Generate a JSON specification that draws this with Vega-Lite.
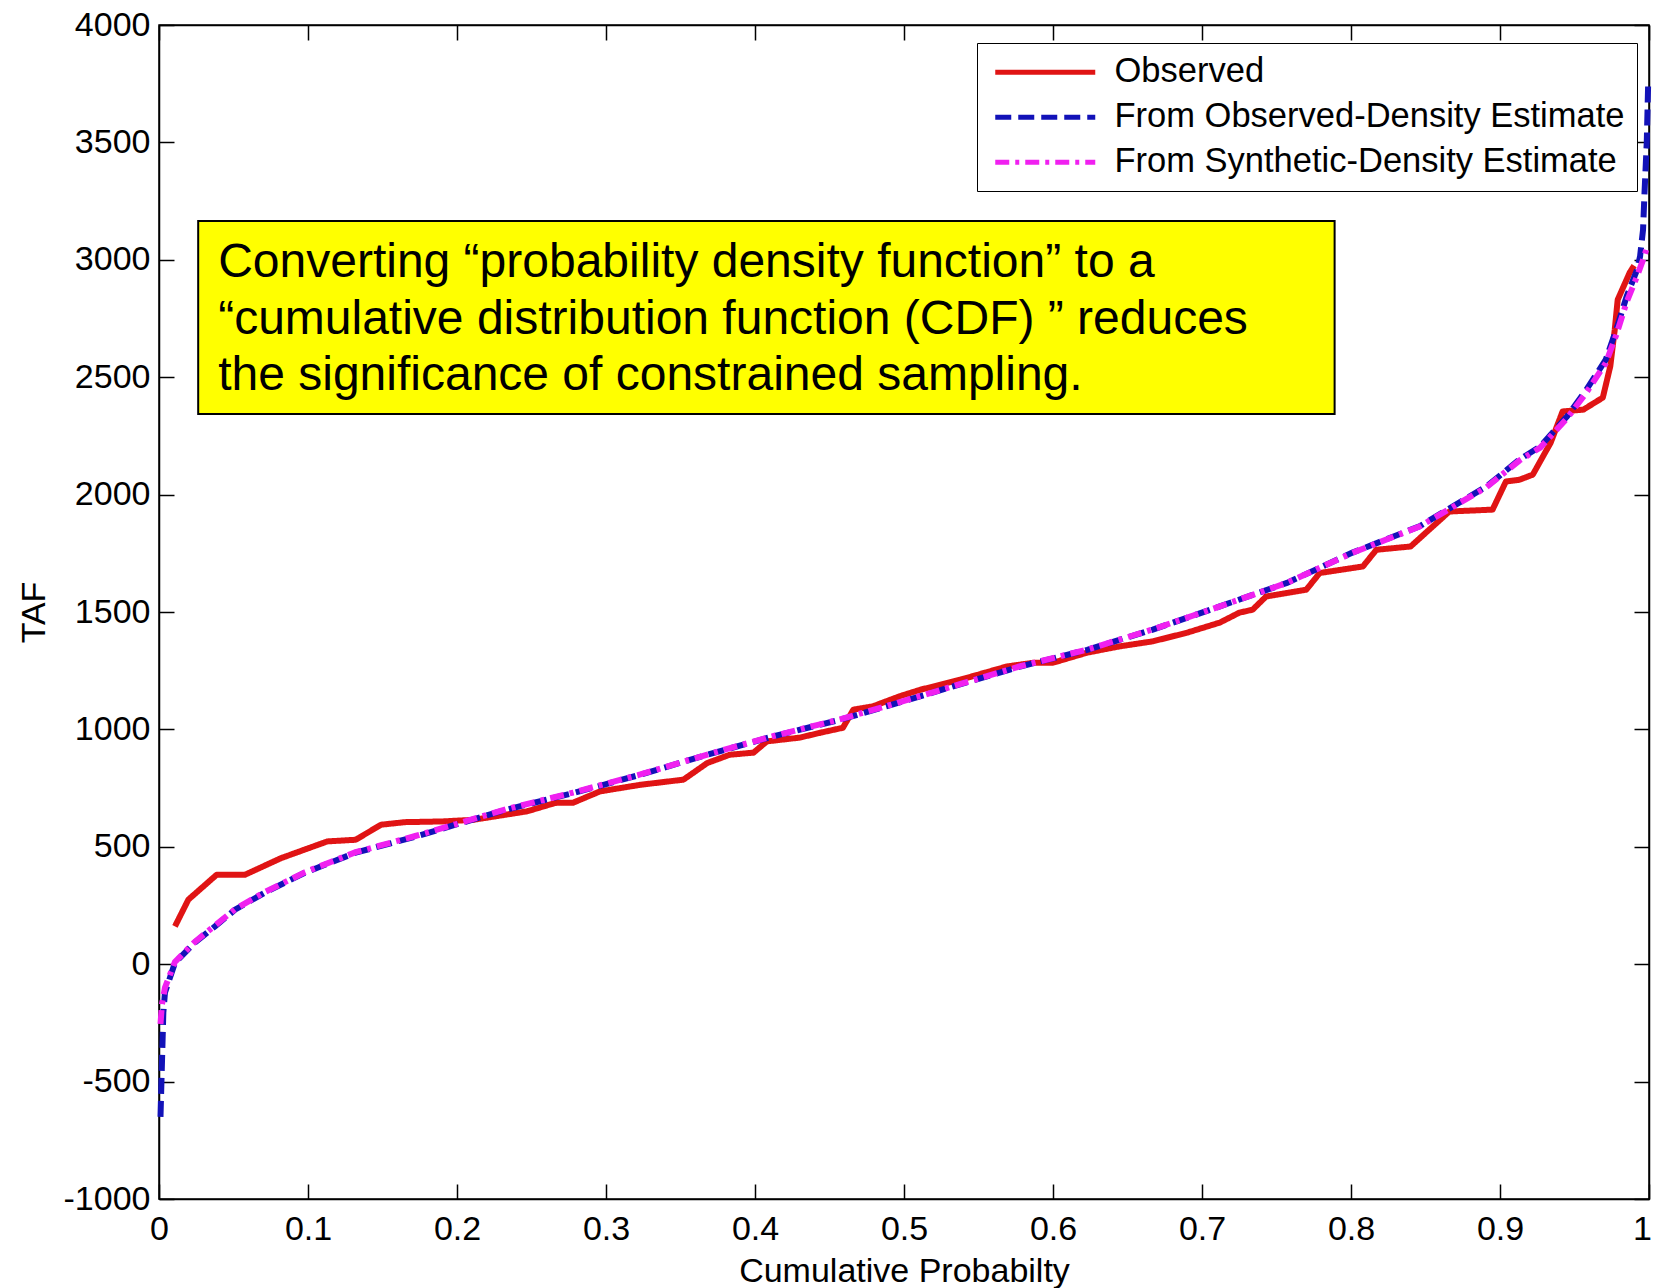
{
  "$schema": "https://vega.github.io/schema/vega-lite/v6.json",
  "width": 1490,
  "height": 1174,
  "autosize": {"type": "none"},
  "padding": {"left": 159, "top": 25, "right": 4, "bottom": 89},
  "background": "white",
  "config": {
    "font": "Liberation Sans",
    "view": {"stroke": "black", "strokeWidth": 1.5},
    "axis": {"grid": false, "domainColor": "black", "domainWidth": 1.5, "tickColor": "black", "tickWidth": 1.5, "labelColor": "black", "titleColor": "black", "labelFont": "Liberation Sans", "titleFont": "Liberation Sans", "labelFontSize": 34, "titleFontSize": 34, "titleFontWeight": "normal"}
  },
  "datasets": {
    "curves": [
      {"series": "Observed", "p": 0.0107, "taf": 161},
      {"series": "Observed", "p": 0.0197, "taf": 275},
      {"series": "Observed", "p": 0.0387, "taf": 381},
      {"series": "Observed", "p": 0.0577, "taf": 381},
      {"series": "Observed", "p": 0.082, "taf": 452},
      {"series": "Observed", "p": 0.113, "taf": 523},
      {"series": "Observed", "p": 0.132, "taf": 530},
      {"series": "Observed", "p": 0.149, "taf": 594},
      {"series": "Observed", "p": 0.165, "taf": 605},
      {"series": "Observed", "p": 0.19, "taf": 608},
      {"series": "Observed", "p": 0.211, "taf": 615},
      {"series": "Observed", "p": 0.247, "taf": 651},
      {"series": "Observed", "p": 0.266, "taf": 687},
      {"series": "Observed", "p": 0.278, "taf": 688},
      {"series": "Observed", "p": 0.296, "taf": 736},
      {"series": "Observed", "p": 0.323, "taf": 764},
      {"series": "Observed", "p": 0.352, "taf": 786},
      {"series": "Observed", "p": 0.368, "taf": 857},
      {"series": "Observed", "p": 0.383, "taf": 892},
      {"series": "Observed", "p": 0.399, "taf": 901},
      {"series": "Observed", "p": 0.408, "taf": 949},
      {"series": "Observed", "p": 0.43, "taf": 965},
      {"series": "Observed", "p": 0.444, "taf": 986},
      {"series": "Observed", "p": 0.459, "taf": 1007},
      {"series": "Observed", "p": 0.466, "taf": 1084},
      {"series": "Observed", "p": 0.479, "taf": 1098},
      {"series": "Observed", "p": 0.497, "taf": 1141},
      {"series": "Observed", "p": 0.511, "taf": 1169},
      {"series": "Observed", "p": 0.538, "taf": 1212},
      {"series": "Observed", "p": 0.569, "taf": 1268},
      {"series": "Observed", "p": 0.587, "taf": 1284},
      {"series": "Observed", "p": 0.6, "taf": 1284},
      {"series": "Observed", "p": 0.623, "taf": 1327},
      {"series": "Observed", "p": 0.645, "taf": 1354},
      {"series": "Observed", "p": 0.667, "taf": 1375},
      {"series": "Observed", "p": 0.69, "taf": 1412},
      {"series": "Observed", "p": 0.712, "taf": 1455},
      {"series": "Observed", "p": 0.725, "taf": 1497},
      {"series": "Observed", "p": 0.734, "taf": 1510},
      {"series": "Observed", "p": 0.743, "taf": 1566},
      {"series": "Observed", "p": 0.77, "taf": 1595},
      {"series": "Observed", "p": 0.779, "taf": 1666},
      {"series": "Observed", "p": 0.808, "taf": 1694},
      {"series": "Observed", "p": 0.817, "taf": 1765},
      {"series": "Observed", "p": 0.84, "taf": 1779},
      {"series": "Observed", "p": 0.855, "taf": 1865},
      {"series": "Observed", "p": 0.866, "taf": 1928},
      {"series": "Observed", "p": 0.895, "taf": 1936},
      {"series": "Observed", "p": 0.904, "taf": 2056},
      {"series": "Observed", "p": 0.913, "taf": 2063},
      {"series": "Observed", "p": 0.922, "taf": 2085},
      {"series": "Observed", "p": 0.934, "taf": 2221},
      {"series": "Observed", "p": 0.942, "taf": 2354},
      {"series": "Observed", "p": 0.956, "taf": 2362},
      {"series": "Observed", "p": 0.969, "taf": 2413},
      {"series": "Observed", "p": 0.974, "taf": 2546},
      {"series": "Observed", "p": 0.977, "taf": 2702},
      {"series": "Observed", "p": 0.979, "taf": 2830},
      {"series": "Observed", "p": 0.987, "taf": 2945},
      {"series": "Observed", "p": 0.99, "taf": 2975},
      {"series": "From Observed-Density Estimate", "p": 0.001, "taf": -650},
      {"series": "From Observed-Density Estimate", "p": 0.0018, "taf": -462},
      {"series": "From Observed-Density Estimate", "p": 0.0029, "taf": -207},
      {"series": "From Observed-Density Estimate", "p": 0.004, "taf": -121},
      {"series": "From Observed-Density Estimate", "p": 0.0107, "taf": 6},
      {"series": "From Observed-Density Estimate", "p": 0.024, "taf": 92},
      {"series": "From Observed-Density Estimate", "p": 0.0376, "taf": 161},
      {"series": "From Observed-Density Estimate", "p": 0.051, "taf": 232},
      {"series": "From Observed-Density Estimate", "p": 0.071, "taf": 305},
      {"series": "From Observed-Density Estimate", "p": 0.098, "taf": 390},
      {"series": "From Observed-Density Estimate", "p": 0.132, "taf": 475},
      {"series": "From Observed-Density Estimate", "p": 0.172, "taf": 543},
      {"series": "From Observed-Density Estimate", "p": 0.199, "taf": 594},
      {"series": "From Observed-Density Estimate", "p": 0.233, "taf": 658},
      {"series": "From Observed-Density Estimate", "p": 0.278, "taf": 729},
      {"series": "From Observed-Density Estimate", "p": 0.323, "taf": 807},
      {"series": "From Observed-Density Estimate", "p": 0.368, "taf": 892},
      {"series": "From Observed-Density Estimate", "p": 0.412, "taf": 970},
      {"series": "From Observed-Density Estimate", "p": 0.457, "taf": 1041},
      {"series": "From Observed-Density Estimate", "p": 0.488, "taf": 1098},
      {"series": "From Observed-Density Estimate", "p": 0.533, "taf": 1183},
      {"series": "From Observed-Density Estimate", "p": 0.578, "taf": 1268},
      {"series": "From Observed-Density Estimate", "p": 0.623, "taf": 1339},
      {"series": "From Observed-Density Estimate", "p": 0.667, "taf": 1425},
      {"series": "From Observed-Density Estimate", "p": 0.712, "taf": 1524},
      {"series": "From Observed-Density Estimate", "p": 0.757, "taf": 1624},
      {"series": "From Observed-Density Estimate", "p": 0.801, "taf": 1753},
      {"series": "From Observed-Density Estimate", "p": 0.846, "taf": 1865},
      {"series": "From Observed-Density Estimate", "p": 0.891, "taf": 2035},
      {"series": "From Observed-Density Estimate", "p": 0.913, "taf": 2149},
      {"series": "From Observed-Density Estimate", "p": 0.927, "taf": 2205},
      {"series": "From Observed-Density Estimate", "p": 0.945, "taf": 2333},
      {"series": "From Observed-Density Estimate", "p": 0.958, "taf": 2447},
      {"series": "From Observed-Density Estimate", "p": 0.971, "taf": 2575},
      {"series": "From Observed-Density Estimate", "p": 0.978, "taf": 2702},
      {"series": "From Observed-Density Estimate", "p": 0.985, "taf": 2844},
      {"series": "From Observed-Density Estimate", "p": 0.992, "taf": 2958},
      {"series": "From Observed-Density Estimate", "p": 0.994, "taf": 3014},
      {"series": "From Observed-Density Estimate", "p": 0.996, "taf": 3128},
      {"series": "From Observed-Density Estimate", "p": 0.997, "taf": 3286},
      {"series": "From Observed-Density Estimate", "p": 0.9985, "taf": 3500},
      {"series": "From Observed-Density Estimate", "p": 0.9995, "taf": 3767},
      {"series": "From Synthetic-Density Estimate", "p": 0.001, "taf": -255},
      {"series": "From Synthetic-Density Estimate", "p": 0.002, "taf": -170},
      {"series": "From Synthetic-Density Estimate", "p": 0.004, "taf": -100},
      {"series": "From Synthetic-Density Estimate", "p": 0.0107, "taf": 10},
      {"series": "From Synthetic-Density Estimate", "p": 0.024, "taf": 95},
      {"series": "From Synthetic-Density Estimate", "p": 0.0376, "taf": 165},
      {"series": "From Synthetic-Density Estimate", "p": 0.051, "taf": 234},
      {"series": "From Synthetic-Density Estimate", "p": 0.071, "taf": 307},
      {"series": "From Synthetic-Density Estimate", "p": 0.098, "taf": 392},
      {"series": "From Synthetic-Density Estimate", "p": 0.132, "taf": 477},
      {"series": "From Synthetic-Density Estimate", "p": 0.172, "taf": 546},
      {"series": "From Synthetic-Density Estimate", "p": 0.199, "taf": 596},
      {"series": "From Synthetic-Density Estimate", "p": 0.233, "taf": 660},
      {"series": "From Synthetic-Density Estimate", "p": 0.278, "taf": 731},
      {"series": "From Synthetic-Density Estimate", "p": 0.323, "taf": 808},
      {"series": "From Synthetic-Density Estimate", "p": 0.368, "taf": 893},
      {"series": "From Synthetic-Density Estimate", "p": 0.412, "taf": 971},
      {"series": "From Synthetic-Density Estimate", "p": 0.457, "taf": 1043},
      {"series": "From Synthetic-Density Estimate", "p": 0.488, "taf": 1099},
      {"series": "From Synthetic-Density Estimate", "p": 0.533, "taf": 1184},
      {"series": "From Synthetic-Density Estimate", "p": 0.578, "taf": 1269},
      {"series": "From Synthetic-Density Estimate", "p": 0.623, "taf": 1340},
      {"series": "From Synthetic-Density Estimate", "p": 0.667, "taf": 1426},
      {"series": "From Synthetic-Density Estimate", "p": 0.712, "taf": 1524},
      {"series": "From Synthetic-Density Estimate", "p": 0.757, "taf": 1624},
      {"series": "From Synthetic-Density Estimate", "p": 0.801, "taf": 1752},
      {"series": "From Synthetic-Density Estimate", "p": 0.846, "taf": 1864},
      {"series": "From Synthetic-Density Estimate", "p": 0.891, "taf": 2032},
      {"series": "From Synthetic-Density Estimate", "p": 0.913, "taf": 2145},
      {"series": "From Synthetic-Density Estimate", "p": 0.927, "taf": 2200},
      {"series": "From Synthetic-Density Estimate", "p": 0.945, "taf": 2325},
      {"series": "From Synthetic-Density Estimate", "p": 0.958, "taf": 2435},
      {"series": "From Synthetic-Density Estimate", "p": 0.971, "taf": 2560},
      {"series": "From Synthetic-Density Estimate", "p": 0.978, "taf": 2680},
      {"series": "From Synthetic-Density Estimate", "p": 0.985, "taf": 2820},
      {"series": "From Synthetic-Density Estimate", "p": 0.992, "taf": 2930},
      {"series": "From Synthetic-Density Estimate", "p": 0.996, "taf": 3000},
      {"series": "From Synthetic-Density Estimate", "p": 0.999, "taf": 3060}
    ]
  },
  "resolve": {"axis": {"x": "independent", "y": "independent"}},
  "layer": [
    {
      "data": {"name": "curves"},
      "transform": [{"filter": "datum.series === 'Observed'"}],
      "mark": {"type": "line", "strokeWidth": 6, "strokeJoin": "round"},
      "encoding": {
        "x": {"field": "p", "type": "quantitative", "scale": {"domain": [0, 1], "nice": false, "zero": false},
          "axis": {"orient": "bottom", "title": "Cumulative Probabilty", "values": [0, 0.1, 0.2, 0.3, 0.4, 0.5, 0.6, 0.7, 0.8, 0.9, 1], "labelExpr": "'' + datum.value", "tickSize": -15, "labelPadding": 28, "titlePadding": 8, "labelFlush": false, "labelOverlap": false,
            "labelOffset": {"condition": {"test": "datum.value === 1", "value": -7}, "value": 0}}},
        "y": {"field": "taf", "type": "quantitative", "scale": {"domain": [-1000, 4000], "nice": false, "zero": false},
          "axis": {"orient": "left", "title": "TAF", "values": [-1000, -500, 0, 500, 1000, 1500, 2000, 2500, 3000, 3500, 4000], "labelExpr": "'' + datum.value", "tickSize": -15, "labelPadding": 24, "titlePadding": 12, "labelFlush": false, "labelOverlap": false}},
        "color": {"field": "series", "type": "nominal",
          "scale": {"domain": ["Observed", "From Observed-Density Estimate", "From Synthetic-Density Estimate"], "range": ["#e01414", "#1212b8", "#f020f0"]},
          "legend": {"orient": "none", "legendX": 818, "legendY": 18, "title": null, "symbolType": "M0,0H20", "symbolSize": 100, "symbolStrokeWidth": 5, "labelFontSize": 34.5, "labelFont": "Liberation Sans", "labelColor": "black", "labelLimit": 1000, "labelOffset": 102, "strokeColor": "black", "fillColor": "white", "padding": 12, "rowPadding": 10, "symbolOffset": -11}},
        "strokeDash": {"field": "series", "type": "nominal",
          "scale": {"domain": ["Observed", "From Observed-Density Estimate", "From Synthetic-Density Estimate"], "range": [[1, 0], [16, 7], [14, 6, 4, 6]]},
          "legend": null}
      }
    },
    {
      "data": {"name": "curves"},
      "transform": [{"filter": "datum.series === 'From Observed-Density Estimate'"}],
      "mark": {"type": "line", "strokeWidth": 6},
      "encoding": {
        "x": {"field": "p", "type": "quantitative", "axis": null},
        "y": {"field": "taf", "type": "quantitative", "axis": null},
        "color": {"field": "series", "type": "nominal"},
        "strokeDash": {"field": "series", "type": "nominal"}
      }
    },
    {
      "data": {"name": "curves"},
      "transform": [{"filter": "datum.series === 'From Synthetic-Density Estimate'"}],
      "mark": {"type": "line", "strokeWidth": 6},
      "encoding": {
        "x": {"field": "p", "type": "quantitative", "axis": null},
        "y": {"field": "taf", "type": "quantitative", "axis": null},
        "color": {"field": "series", "type": "nominal"},
        "strokeDash": {"field": "series", "type": "nominal"}
      }
    },
    {
      "data": {"values": [{"note": "box"}]},
      "mark": {"type": "rect", "fill": "#ffff00", "stroke": "black", "strokeWidth": 2},
      "encoding": {
        "x": {"datum": 0.0263, "type": "quantitative",
          "axis": {"orient": "top", "title": null, "values": [0, 0.1, 0.2, 0.3, 0.4, 0.5, 0.6, 0.7, 0.8, 0.9, 1], "labels": false, "tickSize": -15}},
        "x2": {"datum": 0.789},
        "y": {"datum": 3165, "type": "quantitative",
          "axis": {"orient": "right", "title": null, "values": [-1000, -500, 0, 500, 1000, 1500, 2000, 2500, 3000, 3500, 4000], "labels": false, "tickSize": -15}},
        "y2": {"datum": 2343}
      }
    },
    {
      "data": {"values": [{"note": "text"}]},
      "mark": {"type": "text", "text": ["Converting \u201cprobability density function\u201d to a", "\u201ccumulative distribution function (CDF) \u201d reduces", "the significance of constrained sampling."], "align": "left", "baseline": "middle", "fontSize": 48, "lineHeight": 56.5, "font": "Liberation Sans", "color": "black"},
      "encoding": {
        "x": {"datum": 0.0397, "type": "quantitative", "axis": null},
        "y": {"datum": 2985, "type": "quantitative", "axis": null}
      }
    }
  ]
}
